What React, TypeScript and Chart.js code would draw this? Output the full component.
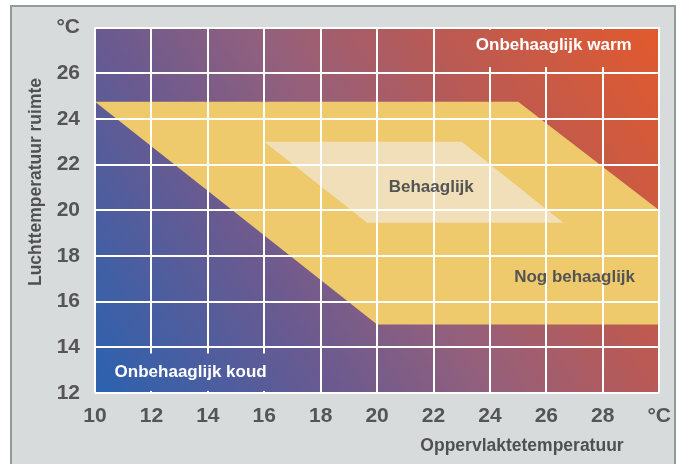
import React, { useEffect, useRef } from "react";
import { Chart, registerables } from "chart.js";

Chart.register(...registerables);

// Comfort zones (surface temperature x, room air temperature y)
const nogBehaaglijkX = [10, 25, 30, 30, 20, 10];
const nogBehaaglijkY = [24.75, 24.75, 20, 15, 15, 24.75];
const behaaglijkX = [16, 23, 26.6, 19.65, 16];
const behaaglijkY = [23, 23, 19.45, 19.45, 23];

const xTickValues = [10, 12, 14, 16, 18, 20, 22, 24, 26, 28, 30];
const yTickValues = [12, 14, 16, 18, 20, 22, 24, 26, 28];
const unitLabel = "°C";

const zoneLabels = ["Onbehaaglijk warm", "Onbehaaglijk koud", "Behaaglijk", "Nog behaaglijk"];
const zoneLabelX = [26.26, 13.39, 21.92, 27.0];
const zoneLabelY = [27.22, 12.9, 21.01, 17.05];
const zoneLabelColor = ["#ffffff", "#ffffff", "#545454", "#545454"];

const xTitle = "Oppervlaktetemperatuur";
const yTitle = "Luchttemperatuur ruimte";

// areas where gridlines are hidden behind the white labels (data units)
const maskX0 = [23.23, 10.18];
const maskX1 = [29.93, 16.4];
const maskY0 = [26.27, 12.09];
const maskY1 = [27.91, 13.73];

const FONT = "'Liberation Sans', Arial, Helvetica, sans-serif";

function makeGradient(ctx: CanvasRenderingContext2D, a: any) {
  const g = ctx.createLinearGradient(a.left, a.bottom, a.right, a.top);
  g.addColorStop(0, "#2a62b0");
  g.addColorStop(0.3, "#6a5a90");
  g.addColorStop(0.5, "#94607c");
  g.addColorStop(0.7, "#b85a56");
  g.addColorStop(1, "#e25a2c");
  return g;
}

export default function App() {
  const ref = useRef<HTMLCanvasElement | null>(null);

  useEffect(() => {
    if (!ref.current) return;
    const bgPlugin = {
      id: "bgPlugin",
      beforeDraw(chart: any) {
        const { ctx, chartArea: a } = chart;
        ctx.save();
        ctx.fillStyle = makeGradient(ctx, a);
        ctx.fillRect(a.left, a.top, a.right - a.left, a.bottom - a.top);
        ctx.restore();
      },
      afterDraw(chart: any) {
        const { ctx, chartArea: a } = chart;
        const xs = chart.scales.x;
        const ys = chart.scales.y;
        ctx.save();
        ctx.fillStyle = makeGradient(ctx, a);
        for (let i = 0; i < maskX0.length; i++) {
          const x0 = xs.getPixelForValue(maskX0[i]);
          const x1 = xs.getPixelForValue(maskX1[i]);
          const y0 = ys.getPixelForValue(maskY1[i]);
          const y1 = ys.getPixelForValue(maskY0[i]);
          ctx.fillRect(x0, y0, x1 - x0, y1 - y0);
        }
        ctx.font = `bold 17px ${FONT}`;
        ctx.textAlign = "center";
        ctx.textBaseline = "middle";
        for (let i = 0; i < zoneLabels.length; i++) {
          ctx.fillStyle = zoneLabelColor[i];
          ctx.fillText(zoneLabels[i], xs.getPixelForValue(zoneLabelX[i]), ys.getPixelForValue(zoneLabelY[i]));
        }
        ctx.fillStyle = "#505050";
        ctx.font = `bold 17.5px ${FONT}`;
        ctx.fillText(xTitle, 522, 446);
        ctx.translate(36, 182);
        ctx.rotate(-Math.PI / 2);
        ctx.fillText(yTitle, 0, 0);
        ctx.restore();
      },
    };

    const chart = new Chart(ref.current, {
      type: "scatter",
      data: {
        datasets: [
          {
            label: "Behaaglijk",
            data: behaaglijkX.map((x, i) => ({ x, y: behaaglijkY[i] })),
            showLine: true,
            fill: "shape",
            backgroundColor: "rgba(242,232,215,0.72)",
            borderColor: "rgba(0,0,0,0)",
            borderWidth: 0,
            pointRadius: 0,
            order: 0,
          } as any,
          {
            label: "Nog behaaglijk",
            data: nogBehaaglijkX.map((x, i) => ({ x, y: nogBehaaglijkY[i] })),
            showLine: true,
            fill: "shape",
            backgroundColor: "#eeca6c",
            borderColor: "rgba(0,0,0,0)",
            borderWidth: 0,
            pointRadius: 0,
            order: 1,
          } as any,
        ],
      },
      options: {
        responsive: false,
        animation: false,
        layout: { padding: { top: 22, right: 20, left: 0, bottom: 0 } },
        plugins: { legend: { display: false }, tooltip: { enabled: false } },
        scales: {
          x: {
            type: "linear",
            min: xTickValues[0],
            max: xTickValues[xTickValues.length - 1],
            afterFit: (s: any) => {
              s.height = 71;
            },
            afterBuildTicks: (s: any) => {
              s.ticks = xTickValues.map((v) => ({ value: v }));
            },
            grid: { color: "#ffffff", lineWidth: 2, drawTicks: false, z: 1 },
            border: { display: false },
            ticks: {
              padding: 11,
              color: "#555555",
              font: { family: FONT, size: 21, weight: "bold" },
              maxRotation: 0,
              autoSkip: false,
              callback: (v: any) => (v === xTickValues[xTickValues.length - 1] ? unitLabel : String(v)),
            },
          },
          y: {
            type: "linear",
            min: yTickValues[0],
            max: yTickValues[yTickValues.length - 1],
            afterFit: (s: any) => {
              s.width = 95;
            },
            afterBuildTicks: (s: any) => {
              s.ticks = yTickValues.map((v) => ({ value: v }));
            },
            grid: { color: "#ffffff", lineWidth: 2, drawTicks: false, z: 1 },
            border: { display: false },
            ticks: {
              padding: 15,
              color: "#555555",
              font: { family: FONT, size: 21, weight: "bold" },
              autoSkip: false,
              callback: (v: any) => (v === yTickValues[yTickValues.length - 1] ? unitLabel : String(v)),
            },
          },
        },
      } as any,
      plugins: [bgPlugin],
    });
    return () => chart.destroy();
  }, []);

  return (
    <div style={{ position: "fixed", left: 0, top: 0, width: 682, height: 464, background: "#ffffff", overflow: "hidden" }}>
      <div
        style={{
          position: "absolute",
          left: 10,
          top: 5,
          width: 666,
          height: 480,
          boxSizing: "border-box",
          background: "#d8dbdc",
          border: "2px solid #949a9a",
        }}
      />
      <canvas ref={ref} width={682} height={464} style={{ position: "absolute", left: 0, top: 0 }} />
    </div>
  );
}
